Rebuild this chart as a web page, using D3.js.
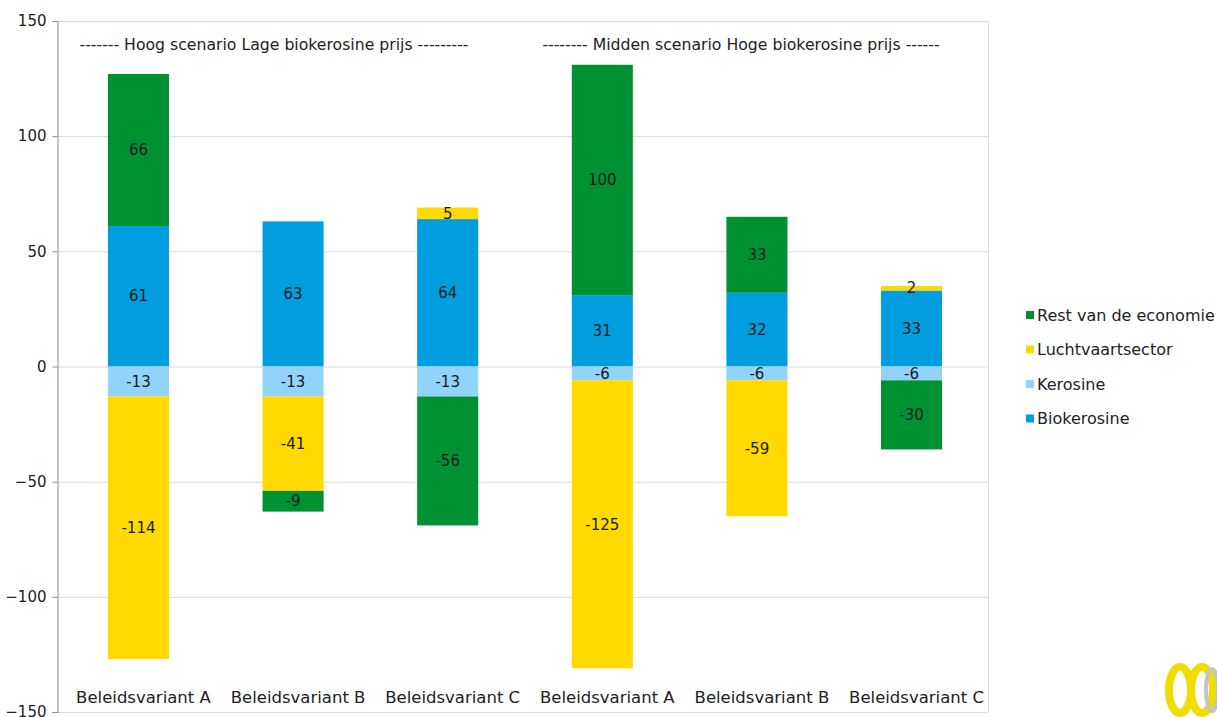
<!DOCTYPE html>
<html><head><meta charset="utf-8">
<script src="https://cdn.jsdelivr.net/npm/d3@7"></script>
<style>body{margin:0;background:#fff}svg{display:block}text{font-family:"DejaVu Sans",sans-serif}</style>
</head><body><svg id="c" width="1217" height="717"></svg>
<script>
const categories = ["Beleidsvariant A","Beleidsvariant B","Beleidsvariant C","Beleidsvariant A ","Beleidsvariant B ","Beleidsvariant C "];
const biokerosine = [61, 63, 64, 31, 32, 33];
const kerosine = [-13, -13, -13, -6, -6, -6];
const luchtvaart = [-114, -41, 5, -125, -59, 2];
const restEconomie = [66, -9, -56, 100, 33, -30];
const seriesNames = ["Biokerosine","Kerosine","Luchtvaartsector","Rest van de economie"];
const legendOrder = ["Rest van de economie","Luchtvaartsector","Kerosine","Biokerosine"];
const colors = {"Biokerosine":"#009EDF","Kerosine":"#92D3FA","Luchtvaartsector":"#FFD900","Rest van de economie":"#009133"};
const yTicks = [150, 100, 50, 0, -50, -100, -150];
const scenarioTitles = ["------- Hoog scenario Lage biokerosine prijs ---------","-------- Midden scenario Hoge biokerosine prijs ------"];

const rows = categories.map((c,i)=>({cat:c,"Biokerosine":biokerosine[i],"Kerosine":kerosine[i],"Luchtvaartsector":luchtvaart[i],"Rest van de economie":restEconomie[i]}));
const svg = d3.select("#c");
const L=57, R=988, T=21, B=712;
const x = d3.scaleBand().domain(categories).range([62,988]).paddingInner(0.605).paddingOuter(0.297);
const y = d3.scaleLinear().domain([-150,150]).range([B,T]);
const F = '"DejaVu Sans",sans-serif';

// grid
svg.append("g").selectAll("line").data(yTicks).join("line")
  .attr("x1",L).attr("x2",R).attr("y1",d=>y(d)+0.5).attr("y2",d=>y(d)+0.5)
  .attr("stroke","#d9d9d9").attr("stroke-width",1);
svg.append("line").attr("x1",R+0.5).attr("x2",R+0.5).attr("y1",T).attr("y2",B).attr("stroke","#d9d9d9");

const stack = d3.stack().keys(seriesNames).offset(d3.stackOffsetDiverging);
const st = stack(rows);
const g = svg.append("g");
st.forEach(s=>{
  g.selectAll(null).data(s).join("rect")
   .attr("x",d=>x(d.data.cat)).attr("width",x.bandwidth())
   .attr("y",d=>y(Math.max(d[0],d[1]))).attr("height",d=>Math.abs(y(d[0])-y(d[1])))
   .attr("fill",colors[s.key]);
});
st.forEach(s=>{
  g.selectAll(null).data(s).join("text")
   .attr("x",d=>x(d.data.cat)+x.bandwidth()/2).attr("y",d=>y((d[0]+d[1])/2))
   .attr("dy","0.35em").attr("text-anchor","middle").attr("font-size",15).attr("fill","#1a1a1a")
   .text(d=>d.data[s.key]);
});

// y axis
const ya = svg.append("g").attr("transform",`translate(${L+0.5},0)`)
  .call(d3.axisLeft(y).tickValues(yTicks).tickSize(5).tickPadding(6));
ya.select(".domain").attr("stroke","#8c8c8c");
ya.selectAll(".tick line").attr("stroke","#8c8c8c");
ya.selectAll("text").attr("font-size",15).attr("fill","#222").style("font-family",F);

// x labels
svg.append("g").selectAll("text").data(categories).join("text")
  .attr("x",d=>x(d)+x.bandwidth()/2+5).attr("y",703).attr("text-anchor","middle")
  .attr("font-size",16.5).attr("fill","#222").style("font-family",F).text(d=>d.trim());

// scenario titles
svg.append("text").attr("x",274).attr("y",50).attr("text-anchor","middle").attr("font-size",15.7).attr("fill","#222").style("font-family",F).text(scenarioTitles[0]);
svg.append("text").attr("x",741).attr("y",50).attr("text-anchor","middle").attr("font-size",15.7).attr("fill","#222").style("font-family",F).text(scenarioTitles[1]);

// legend
const lg = svg.append("g").selectAll("g").data(legendOrder).join("g")
  .attr("transform",(d,i)=>`translate(1026,${315+i*34.5})`);
lg.append("rect").attr("x",0).attr("y",-4).attr("width",8).attr("height",8).attr("fill",d=>colors[d]);
lg.append("text").attr("x",11).attr("dy","0.35em").attr("font-size",16).attr("fill","#222").style("font-family",F).text(d=>d);

// logo
const lo = svg.append("g").attr("transform","translate(1180,690)");
lo.append("ellipse").attr("cx",0).attr("cy",0).attr("rx",11).attr("ry",23).attr("fill","none").attr("stroke","#F2DC00").attr("stroke-width",8);
lo.append("ellipse").attr("cx",22).attr("cy",0).attr("rx",11).attr("ry",23).attr("fill","none").attr("stroke","#F2DC00").attr("stroke-width",8);
lo.append("ellipse").attr("cx",32).attr("cy",0).attr("rx",6).attr("ry",21).attr("fill","none").attr("stroke","#c4c4c4").attr("stroke-width",4);
</script></body></html>
